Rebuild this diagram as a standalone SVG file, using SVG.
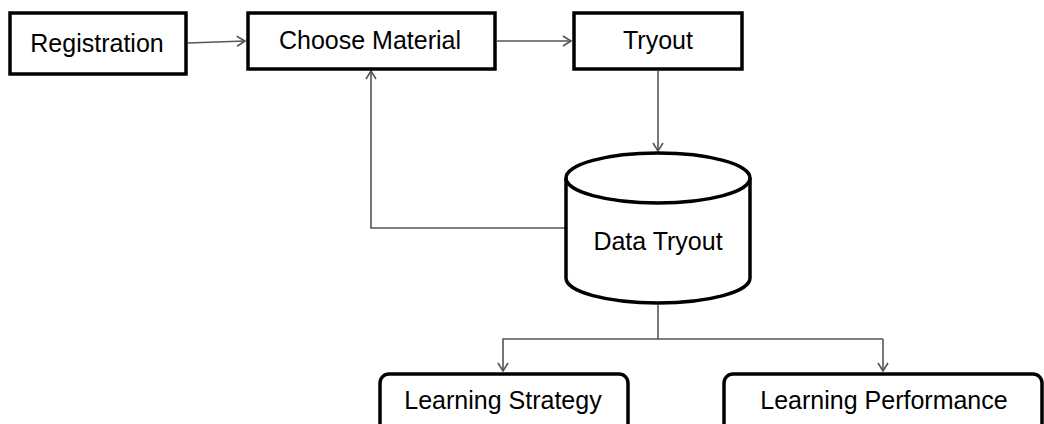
<svg xmlns="http://www.w3.org/2000/svg" width="1044" height="424" viewBox="0 0 1044 424">
<defs>
<style>
.box{fill:#fff;stroke:#000;stroke-width:3.5}
.lbl{font-family:"Liberation Sans",Arial,sans-serif;font-size:25px;fill:#000;text-anchor:middle}
.con{fill:none;stroke:#555;stroke-width:1.6}
</style>
<marker id="arr" markerWidth="12" markerHeight="12" refX="10" refY="6" orient="auto" markerUnits="userSpaceOnUse">
<path d="M2,1 L10,6 L2,11" fill="none" stroke="#555" stroke-width="1.6"/>
</marker>
</defs>
<rect width="1044" height="424" fill="#fff"/>
<g id="connectors">
<line class="con" x1="188" y1="43" x2="245" y2="41" marker-end="url(#arr)"/>
<line class="con" x1="497" y1="41" x2="571" y2="41" marker-end="url(#arr)"/>
<line class="con" x1="658" y1="71" x2="658" y2="151" marker-end="url(#arr)"/>
<polyline class="con" points="566,228 371,228 371,71" marker-end="url(#arr)"/>
<line class="con" x1="658" y1="305" x2="658" y2="339"/>
<polyline class="con" points="883,339 503,339 503,371" marker-end="url(#arr)"/>
<line class="con" x1="883" y1="339" x2="883" y2="371" marker-end="url(#arr)"/>
</g>
<g id="registration">
<rect class="box" x="10" y="13" width="176" height="61"/>
<text class="lbl" x="97" y="52">Registration</text>
</g>
<g id="choose-material">
<rect class="box" x="248" y="13" width="247" height="56"/>
<text class="lbl" x="370" y="49">Choose Material</text>
</g>
<g id="tryout">
<rect class="box" x="574" y="13" width="168" height="56"/>
<text class="lbl" x="658" y="49">Tryout</text>
</g>
<g id="data-tryout">
<path class="box" d="M566,178 L566,278 A92,25 0 0 0 750,278 L750,178 A92,25 0 0 0 566,178 Z"/>
<path d="M566,178 A92,25 0 0 0 750,178" fill="none" stroke="#000" stroke-width="3.5"/>
<text class="lbl" x="658" y="250">Data Tryout</text>
</g>
<g id="learning-strategy">
<rect class="box" x="380" y="374" width="248" height="64" rx="9"/>
<text class="lbl" x="503" y="409">Learning Strategy</text>
</g>
<g id="learning-performance">
<rect class="box" x="724" y="374" width="318" height="64" rx="9"/>
<text class="lbl" x="884" y="409">Learning Performance</text>
</g>
</svg>
